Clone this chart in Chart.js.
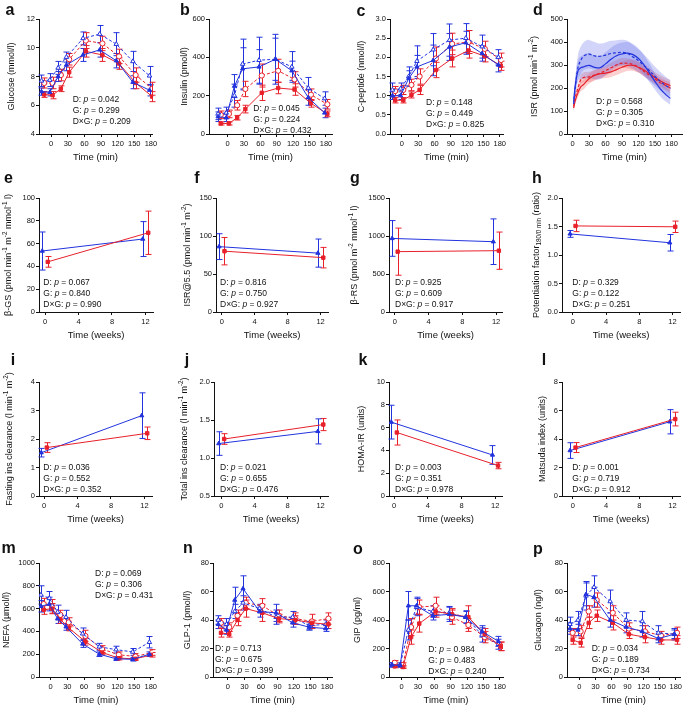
<!DOCTYPE html>
<html>
<head>
<meta charset="utf-8">
<title>OGTT panels</title>
<script src="https://cdn.jsdelivr.net/npm/chart.js@4.4.1/dist/chart.umd.min.js"></script>
<style>
  body { margin: 0; background: #fff; }
  #fig { position: relative; width: 685px; height: 707px; overflow: hidden; }
  #fig canvas { position: absolute; }
</style>
</head>
<body>
<div id="fig"></div>
<script>
// sampling times
const minTimes = [-15, 0, 15, 30, 60, 90, 120, 150, 180];
const minTicks = [0, 30, 60, 90, 120, 150, 180];
const weeks = [0, 12];
const weekTicks = [0, 4, 8, 12];

// a: glucose (mmol/l)
const glucoseBlueFilled = [6.95, 6.9, 8.0, 8.8, 9.5, 9.85, 9.1, 7.6, 7.05];
const glucoseBlueFilledErr = [0.25, 0.25, 0.35, 0.4, 0.45, 0.5, 0.5, 0.45, 0.4];
const glucoseBlueOpen = [7.7, 7.75, 8.6, 9.35, 10.65, 10.95, 10.25, 9.05, 8.05];
const glucoseBlueOpenErr = [0.4, 0.45, 0.45, 0.35, 0.45, 0.6, 0.8, 0.7, 0.65];
const glucoseRedOpen = [7.55, 7.55, 8.1, 9.2, 10.5, 10.3, 9.4, 8.1, 7.15];
const glucoseRedOpenErr = [0.35, 0.4, 0.4, 0.4, 0.55, 0.5, 0.5, 0.5, 0.45];
const glucoseRedFilled = [6.75, 6.7, 7.15, 8.3, 9.75, 9.5, 8.9, 7.55, 6.6];
const glucoseRedFilledErr = [0.2, 0.25, 0.2, 0.35, 0.4, 0.45, 0.4, 0.4, 0.35];

// b: insulin (pmol/l)
const insulinBlueFilled = [90, 85, 250, 340, 350, 390, 330, 190, 110];
const insulinBlueFilledErr = [25, 20, 60, 110, 90, 110, 50, 40, 25];
const insulinBlueOpen = [105, 110, 200, 365, 385, 390, 350, 240, 185];
const insulinBlueOpenErr = [30, 30, 60, 130, 120, 130, 80, 55, 35];
const insulinRedOpen = [100, 105, 150, 235, 305, 330, 285, 205, 155];
const insulinRedOpenErr = [20, 20, 25, 40, 60, 60, 40, 30, 25];
const insulinRedFilled = [55, 55, 85, 130, 215, 240, 232, 160, 105];
const insulinRedFilledErr = [8, 8, 12, 20, 40, 30, 30, 20, 15];

// c: C-peptide (nmol/l)
const cpepBlueFilled = [1.0, 1.0, 1.45, 1.75, 1.92, 2.27, 2.38, 2.1, 1.8];
const cpepBlueFilledErr = [0.1, 0.1, 0.2, 0.3, 0.4, 0.35, 0.3, 0.2, 0.18];
const cpepBlueOpen = [1.15, 1.18, 1.5, 1.9, 2.2, 2.45, 2.5, 2.28, 2.0];
const cpepBlueOpenErr = [0.18, 0.15, 0.25, 0.4, 0.42, 0.42, 0.38, 0.3, 0.2];
const cpepRedOpen = [1.12, 1.15, 1.28, 1.5, 1.97, 2.35, 2.4, 2.22, 1.93];
const cpepRedOpenErr = [0.12, 0.12, 0.15, 0.2, 0.3, 0.28, 0.3, 0.2, 0.18];
const cpepRedFilled = [0.88, 0.88, 1.02, 1.15, 1.67, 1.97, 2.18, 2.03, 1.78];
const cpepRedFilledErr = [0.07, 0.07, 0.08, 0.12, 0.2, 0.22, 0.2, 0.15, 0.12];

// d: insulin secretion rate, modelled curves with bands
const isrTimes = [2, 5, 10, 15, 20, 25, 30, 40, 50, 60, 70, 80, 90, 100, 110, 120, 130, 140, 150, 160, 170, 178];
const isrBlueDashed = [130, 200, 290, 320, 338, 345, 347, 340, 338, 343, 350, 353, 355, 350, 335, 318, 298, 275, 250, 228, 210, 198];
const isrBlueDashedBand = [25, 40, 55, 60, 60, 62, 62, 60, 55, 55, 55, 55, 55, 55, 52, 50, 48, 45, 42, 40, 38, 36];
const isrBlueSolid = [140, 210, 275, 288, 292, 296, 298, 290, 288, 305, 325, 340, 348, 352, 345, 328, 300, 265, 228, 195, 170, 155];
const isrBlueSolidBand = [25, 35, 45, 50, 52, 55, 55, 52, 50, 50, 50, 50, 50, 48, 46, 44, 42, 40, 36, 33, 30, 28];
const isrRedDashed = [120, 160, 200, 235, 245, 248, 248, 256, 265, 275, 288, 300, 308, 307, 302, 290, 272, 255, 238, 222, 210, 200];
const isrRedDashedBand = [12, 15, 18, 20, 22, 22, 22, 22, 22, 22, 22, 22, 22, 22, 22, 22, 22, 22, 22, 22, 22, 22];
const isrRedSolid = [112, 145, 180, 205, 215, 228, 240, 255, 262, 265, 270, 280, 290, 298, 298, 290, 278, 262, 245, 230, 218, 210];
const isrRedSolidBand = [12, 15, 18, 20, 22, 22, 22, 22, 22, 22, 22, 24, 24, 24, 24, 24, 24, 24, 24, 24, 24, 24];

// e-l: week 0 vs week 12
const betaGsBlue = [53.5, 64], betaGsBlueErr = [16.7, 15.3];
const betaGsRed = [44, 69.5], betaGsRedErr = [4.7, 19];
const isr55Blue = [86, 77.5], isr55BlueErr = [17, 18.5];
const isr55Red = [80, 71.5], isr55RedErr = [18, 13.5];
const betaRsBlue = [968, 925], betaRsBlueErr = [235, 300];
const betaRsRed = [794, 807], betaRsRedErr = [310, 245];
const potBlue = [1.37, 1.215], potBlueErr = [0.06, 0.145];
const potRed = [1.51, 1.495], potRedErr = [0.1, 0.1];
const fastClBlue = [1.52, 2.82], fastClBlueErr = [0.15, 0.8];
const fastClRed = [1.7, 2.2], fastClRedErr = [0.17, 0.22];
const totClBlue = [1.19, 1.35], totClBlueErr = [0.155, 0.165];
const totClRed = [1.25, 1.44], totClRedErr = [0.07, 0.08];
const homaBlue = [6.48, 3.6], homaBlueErr = [1.48, 0.82];
const homaRed = [5.57, 2.67], homaRedErr = [1.1, 0.28];
const matsudaBlue = [3.19, 5.21], matsudaBlueErr = [0.55, 0.85];
const matsudaRed = [3.4, 5.4], matsudaRedErr = [0.35, 0.48];

// m: NEFA (umol/l)
const nefaBlueFilled = [620, 640, 510, 440, 290, 200, 160, 155, 200];
const nefaBlueFilledErr = [50, 60, 40, 30, 30, 20, 15, 15, 20];
const nefaBlueOpen = [720, 690, 570, 525, 380, 265, 240, 220, 305];
const nefaBlueOpenErr = [80, 60, 60, 60, 50, 30, 30, 30, 50];
const nefaRedOpen = [640, 620, 545, 480, 360, 245, 195, 180, 215];
const nefaRedOpenErr = [50, 60, 40, 40, 50, 30, 25, 25, 25];
const nefaRedFilled = [590, 600, 505, 430, 310, 215, 165, 160, 195];
const nefaRedFilledErr = [40, 45, 35, 25, 30, 20, 15, 15, 20];

// n: GLP-1 (pmol/l)
const glpBlueFilled = [37, 33, 54, 62, 46, 45, 38, 35, 34];
const glpBlueFilledErr = [3, 3, 9, 9, 4, 6, 3, 2, 2];
const glpBlueOpen = [40, 37, 46, 52, 48, 42, 42, 36, 37];
const glpBlueOpenErr = [3, 4, 5, 5, 3, 5, 4, 3, 3];
const glpRedOpen = [38, 35, 43, 52, 50, 43, 41, 39, 41];
const glpRedOpenErr = [3, 3, 4, 4, 5, 4, 4, 5, 4];
const glpRedFilled = [31, 30, 40, 48, 45, 41, 40, 38, 37];
const glpRedFilledErr = [3, 2, 4, 6, 6, 3, 3, 2, 3];

// o: GIP (pg/ml)
const gipBlueFilled = [85, 80, 500, 500, 430, 440, 420, 320, 250];
const gipBlueFilledErr = [15, 10, 100, 60, 30, 50, 40, 40, 35];
const gipBlueOpen = [85, 85, 330, 490, 460, 450, 420, 295, 230];
const gipBlueOpenErr = [15, 15, 70, 60, 40, 45, 45, 50, 35];
const gipRedOpen = [100, 85, 350, 490, 500, 420, 365, 280, 215];
const gipRedOpenErr = [15, 15, 60, 50, 60, 50, 45, 40, 30];
const gipRedFilled = [75, 70, 280, 375, 460, 440, 420, 300, 215];
const gipRedFilledErr = [10, 10, 50, 60, 40, 40, 80, 40, 30];

// p: glucagon (ng/l)
const glucagonBlueFilled = [34, 33, 58, 56, 40, 35, 32, 27, 30];
const glucagonBlueFilledErr = [4, 4, 8, 7, 5, 4, 4, 3, 3];
const glucagonBlueOpen = [37, 40, 57, 63, 53, 40, 39, 31, 30];
const glucagonBlueOpenErr = [5, 6, 10, 8, 8, 5, 7, 5, 4];
const glucagonRedOpen = [31, 32, 46, 54, 45, 34, 32, 29, 31];
const glucagonRedOpenErr = [3, 4, 4, 5, 5, 4, 4, 3, 4];
const glucagonRedFilled = [26, 24, 38, 43, 38, 30, 28, 26, 26];
const glucagonRedFilledErr = [3, 3, 4, 4, 5, 3, 4, 3, 3];

const BLUE = '#2233dd';
const RED = '#e8202a';
const INK = '#111';
const FONT = "'Liberation Sans', Arial, Helvetica, sans-serif";
const COLS = [[0, 172], [172, 345], [345, 517], [517, 685]];
const ROWS = [[0, 170], [170, 350], [350, 530], [530, 707]];

Chart.defaults.font.family = FONT;
Chart.defaults.color = INK;

function series(vals, errs, xs, color, shape, open, dashed, dx) {
  return {
    data: vals.map((v, i) => ({ x: xs[i] + dx, y: v })),
    errs: errs,
    borderColor: color,
    backgroundColor: open ? '#fff' : color,
    borderWidth: 1,
    borderDash: dashed ? [3, 2] : [],
    pointStyle: shape,
    pointRadius: open ? 2.6 : 2.4,
    pointBorderWidth: 1,
    pointBackgroundColor: open ? '#fff' : color,
    pointBorderColor: color,
    tension: 0,
    fill: false
  };
}

function course(bf, bfE, bo, boE, ro, roE, rf, rfE) {
  return [
    series(bf, bfE, minTimes, BLUE, 'triangle', false, false, -2.5),
    series(rf, rfE, minTimes, RED, 'rect', false, false, 2.5),
    series(bo, boE, minTimes, BLUE, 'triangle', true, true, -2.5),
    series(ro, roE, minTimes, RED, 'circle', true, true, 2.5)
  ];
}

function weekSets(b, bE, r, rE) {
  return [
    series(r, rE, weeks, RED, 'rect', false, false, 0.33),
    series(b, bE, weeks, BLUE, 'triangle', false, false, -0.33)
  ];
}

function isrSets() {
  const line = (m, col, dashed) => ({
    data: isrTimes.map((t, i) => ({ x: t, y: m[i] })),
    borderColor: col, borderWidth: 1.2, borderDash: dashed ? [3, 2] : [],
    pointRadius: 0, fill: false, tension: 0.4
  });
  const band = (m, s, col) => [
    { data: isrTimes.map((t, i) => ({ x: t, y: m[i] - s[i] })), borderColor: 'transparent',
      borderWidth: 0, pointRadius: 0, fill: false, tension: 0.4 },
    { data: isrTimes.map((t, i) => ({ x: t, y: m[i] + s[i] })), borderColor: 'transparent',
      borderWidth: 0, pointRadius: 0, fill: '-1', backgroundColor: col, tension: 0.4 }
  ];
  return [
    line(isrBlueDashed, BLUE, true),
    line(isrBlueSolid, BLUE, false),
    line(isrRedDashed, RED, true),
    line(isrRedSolid, RED, false),
    ...band(isrBlueDashed, isrBlueDashedBand, 'rgba(95,105,235,0.28)'),
    ...band(isrBlueSolid, isrBlueSolidBand, 'rgba(95,105,235,0.28)'),
    ...band(isrRedDashed, isrRedDashedBand, 'rgba(240,85,85,0.28)'),
    ...band(isrRedSolid, isrRedSolidBand, 'rgba(240,85,85,0.28)')
  ];
}

const stat = (d, g, dg) => ['D: *p* = ' + d, 'G: *p* = ' + g, 'D×G: *p* = ' + dg];

const panels = [
  { id: 'a', col: 0, row: 0, area: [39, 152, 19, 134], x: [-22, 182, minTicks], y: [4, 12, [4, 6, 8, 10, 12]],
    yTitle: 'Glucose (mmol/l)', yTitleX: 11.7, xTitle: 'Time (min)', letter: [10, 11],
    stats: stat('0.042', '0.299', '0.209'), statsAt: [72.7, 100],
    sets: course(glucoseBlueFilled, glucoseBlueFilledErr, glucoseBlueOpen, glucoseBlueOpenErr,
                 glucoseRedOpen, glucoseRedOpenErr, glucoseRedFilled, glucoseRedFilledErr) },
  { id: 'b', col: 1, row: 0, area: [209, 332, 19, 134], x: [-34, 191, minTicks], y: [0, 600, [0, 200, 400, 600]],
    yTitle: 'Insulin (pmol/l)', yTitleX: 185, xTitle: 'Time (min)', letter: [185, 11],
    stats: stat('0.045', '0.224', '0.432'), statsAt: [253.3, 108.3],
    sets: course(insulinBlueFilled, insulinBlueFilledErr, insulinBlueOpen, insulinBlueOpenErr,
                 insulinRedOpen, insulinRedOpenErr, insulinRedFilled, insulinRedFilledErr) },
  { id: 'c', col: 2, row: 0, area: [390, 503, 19, 134], x: [-22, 186, minTicks], y: [0, 3, [0, 0.5, 1, 1.5, 2, 2.5, 3], 1],
    yTitle: 'C-peptide (nmol/l)', yTitleX: 361.7, xTitle: 'Time (min)', letter: [361, 12],
    stats: stat('0.148', '0.449', '0.825'), statsAt: [426, 102.3],
    sets: course(cpepBlueFilled, cpepBlueFilledErr, cpepBlueOpen, cpepBlueOpenErr,
                 cpepRedOpen, cpepRedOpenErr, cpepRedFilled, cpepRedFilledErr) },
  { id: 'd', col: 3, row: 0, area: [567, 682, 19, 134], x: [-10, 199, minTicks], y: [0, 500, [0, 100, 200, 300, 400, 500]],
    yTitle: 'ISR (pmol min^{-1} m^{-2})', yTitleX: 535, xTitle: 'Time (min)', letter: [538, 11],
    stats: stat('0.568', '0.305', '0.310'), statsAt: [596, 101.7],
    sets: isrSets() },

  { id: 'e', col: 0, row: 1, area: [39, 153, 198, 312], x: [-0.72, 12.9, weekTicks], y: [0, 100, [0, 20, 40, 60, 80, 100]],
    yTitle: 'β-GS (pmol min^{-1} m^{-2} mmol^{-1} l)', yTitleX: 8.5, xTitle: 'Time (weeks)', letter: [8.5, 179],
    stats: stat('0.067', '0.840', '0.990'), statsAt: [43.3, 282.7],
    sets: weekSets(betaGsBlue, betaGsBlueErr, betaGsRed, betaGsRedErr) },
  { id: 'f', col: 1, row: 1, area: [216, 328, 198, 312], x: [-0.7, 12.9, weekTicks], y: [0, 150, [0, 50, 100, 150]],
    yTitle: 'ISR@5.5 (pmol min^{-1} m^{-2})', yTitleX: 188, xTitle: 'Time (weeks)', letter: [197, 179],
    stats: stat('0.816', '0.750', '0.927'), statsAt: [220, 282.7],
    sets: weekSets(isr55Blue, isr55BlueErr, isr55Red, isr55RedErr) },
  { id: 'g', col: 2, row: 1, area: [389, 502, 198, 312], x: [-0.7, 12.7, weekTicks], y: [0, 1500, [0, 500, 1000, 1500]],
    yTitle: 'β-RS (pmol m^{-2} mmol^{-1} l)', yTitleX: 355, xTitle: 'Time (weeks)', letter: [355, 179],
    stats: stat('0.925', '0.609', '0.917'), statsAt: [395, 282.7],
    sets: weekSets(betaRsBlue, betaRsBlueErr, betaRsRed, betaRsRedErr) },
  { id: 'h', col: 3, row: 1, area: [562, 680, 198, 312], x: [-1.3, 12.9, weekTicks], y: [0, 2, [0, 0.5, 1, 1.5, 2], 1],
    yTitle: 'Potentiation factor_{180/0 min} (ratio)', yTitleX: 536.7, xTitle: 'Time (weeks)', letter: [537, 179],
    stats: stat('0.329', '0.122', '0.251'), statsAt: [572.3, 282.7],
    sets: weekSets(potBlue, potBlueErr, potRed, potRedErr) },

  { id: 'i', col: 0, row: 2, area: [39, 152, 382, 496], x: [-0.6, 12.9, weekTicks], y: [0, 4, [0, 1, 2, 3, 4]],
    yTitle: 'Fasting ins clearance (l min^{-1} m^{-2})', yTitleX: 10, xTitle: 'Time (weeks)', letter: [13, 361],
    stats: stat('0.036', '0.552', '0.352'), statsAt: [43.3, 467.3],
    sets: weekSets(fastClBlue, fastClBlueErr, fastClRed, fastClRedErr) },
  { id: 'j', col: 1, row: 2, area: [214, 328, 382, 496], x: [-0.9, 12.9, weekTicks], y: [0.5, 2, [0.5, 1, 1.5, 2], 1],
    yTitle: 'Total ins clearance (l min^{-1} m^{-2})', yTitleX: 185, xTitle: 'Time (weeks)', letter: [187, 361],
    stats: stat('0.021', '0.655', '0.476'), statsAt: [220, 467.3],
    sets: weekSets(totClBlue, totClBlueErr, totClRed, totClRedErr) },
  { id: 'k', col: 2, row: 2, area: [389, 502, 382, 496], x: [-0.6, 12.8, weekTicks], y: [0, 10, [0, 2, 4, 6, 8, 10]],
    yTitle: 'HOMA-IR (units)', yTitleX: 361.7, xTitle: 'Time (weeks)', letter: [363, 361],
    stats: stat('0.003', '0.351', '0.978'), statsAt: [395, 467.3],
    sets: weekSets(homaBlue, homaBlueErr, homaRed, homaRedErr) },
  { id: 'l', col: 3, row: 2, area: [562, 680, 382, 496], x: [-1.3, 12.9, weekTicks], y: [0, 8, [0, 2, 4, 6, 8]],
    yTitle: 'Matsuda index (units)', yTitleX: 543, xTitle: 'Time (weeks)', letter: [544, 361],
    stats: stat('0.001', '0.719', '0.912'), statsAt: [572.3, 467.3],
    sets: weekSets(matsudaBlue, matsudaBlueErr, matsudaRed, matsudaRedErr) },

  { id: 'm', col: 0, row: 3, area: [39, 153, 563, 677], x: [-21, 184, minTicks], y: [0, 1000, [0, 200, 400, 600, 800, 1000]],
    yTitle: 'NEFA (µmol/l)', yTitleX: 6.7, xTitle: 'Time (min)', letter: [8.5, 549],
    stats: stat('0.069', '0.306', '0.431'), statsAt: [95, 573.3],
    sets: course(nefaBlueFilled, nefaBlueFilledErr, nefaBlueOpen, nefaBlueOpenErr,
                 nefaRedOpen, nefaRedOpenErr, nefaRedFilled, nefaRedFilledErr) },
  { id: 'n', col: 1, row: 3, area: [213, 332, 563, 677], x: [-27, 189, minTicks], y: [0, 80, [0, 20, 40, 60, 80]],
    yTitle: 'GLP-1 (pmol/l)', yTitleX: 188, xTitle: 'Time (min)', letter: [188, 549],
    stats: stat('0.713', '0.675', '0.399'), statsAt: [215, 648.3],
    sets: course(glpBlueFilled, glpBlueFilledErr, glpBlueOpen, glpBlueOpenErr,
                 glpRedOpen, glpRedOpenErr, glpRedFilled, glpRedFilledErr) },
  { id: 'o', col: 2, row: 3, area: [389, 503, 563, 677], x: [-23, 186, minTicks], y: [0, 800, [0, 200, 400, 600, 800]],
    yTitle: 'GIP (pg/ml)', yTitleX: 358, xTitle: 'Time (min)', letter: [358, 550],
    stats: stat('0.984', '0.483', '0.240'), statsAt: [428.3, 650],
    sets: course(gipBlueFilled, gipBlueFilledErr, gipBlueOpen, gipBlueOpenErr,
                 gipRedOpen, gipRedOpenErr, gipRedFilled, gipRedFilledErr) },
  { id: 'p', col: 3, row: 3, area: [567, 682, 563, 677], x: [-23, 188, minTicks], y: [0, 80, [0, 20, 40, 60, 80]],
    yTitle: 'Glucagon (ng/l)', yTitleX: 539, xTitle: 'Time (min)', letter: [538, 550],
    stats: stat('0.034', '0.189', '0.734'), statsAt: [591.7, 648.3],
    sets: course(glucagonBlueFilled, glucagonBlueFilledErr, glucagonBlueOpen, glucagonBlueOpenErr,
                 glucagonRedOpen, glucagonRedOpenErr, glucagonRedFilled, glucagonRedFilledErr) }
];

// text with ^{sup}, _{sub} and *italic* runs
function drawRich(ctx, str, x, y, size, align) {
  const parts = [];
  const re = /\^\{([^}]*)\}|_\{([^}]*)\}|\*([^*]*)\*/g;
  let last = 0, m;
  while ((m = re.exec(str))) {
    if (m.index > last) parts.push({ t: str.slice(last, m.index), k: '' });
    if (m[1] !== undefined) parts.push({ t: m[1], k: 'sup' });
    else if (m[2] !== undefined) parts.push({ t: m[2], k: 'sub' });
    else parts.push({ t: m[3], k: 'it' });
    last = re.lastIndex;
  }
  if (last < str.length) parts.push({ t: str.slice(last), k: '' });
  const fontOf = k => (k === 'it' ? 'italic ' : '') + ((k === 'sup' || k === 'sub') ? size * 0.7 : size) + 'px ' + FONT;
  let w = 0;
  parts.forEach(p => { ctx.font = fontOf(p.k); p.w = ctx.measureText(p.t).width; w += p.w; });
  let cx = align === 'center' ? x - w / 2 : x;
  ctx.textAlign = 'left';
  ctx.textBaseline = 'middle';
  parts.forEach(p => {
    ctx.font = fontOf(p.k);
    const dy = p.k === 'sup' ? -size * 0.38 : p.k === 'sub' ? size * 0.3 : 0;
    ctx.fillText(p.t, cx, y + dy);
    cx += p.w;
  });
}

function decor(p, ox, oy) {
  return {
    id: 'decor',
    beforeDatasetsDraw(chart) {
      const ctx = chart.ctx, xs = chart.scales.x, ys = chart.scales.y;
      ctx.save();
      chart.data.datasets.forEach(ds => {
        if (!ds.errs) return;
        ctx.strokeStyle = ds.borderColor;
        ctx.lineWidth = 1;
        ctx.setLineDash([]);
        ds.data.forEach((pt, i) => {
          const px = Math.round(xs.getPixelForValue(pt.x)) + 0.5;
          const y1 = ys.getPixelForValue(pt.y - ds.errs[i]);
          const y2 = ys.getPixelForValue(pt.y + ds.errs[i]);
          ctx.beginPath();
          ctx.moveTo(px, y1); ctx.lineTo(px, y2);
          ctx.moveTo(px - 3, y1); ctx.lineTo(px + 3, y1);
          ctx.moveTo(px - 3, y2); ctx.lineTo(px + 3, y2);
          ctx.stroke();
        });
      });
      ctx.restore();
    },
    afterDraw(chart) {
      const ctx = chart.ctx, a = chart.chartArea;
      ctx.save();
      ctx.fillStyle = INK;
      // panel letter
      ctx.font = 'bold 16px ' + FONT;
      ctx.textAlign = 'center';
      ctx.textBaseline = 'middle';
      ctx.fillText(p.id, p.letter[0] - ox, p.letter[1] - oy);
      // x title
      ctx.font = '9.5px ' + FONT;
      ctx.fillText(p.xTitle, (a.left + a.right) / 2, a.bottom + 23);
      // y title
      ctx.save();
      ctx.translate(p.yTitleX - ox, (a.top + a.bottom) / 2);
      ctx.rotate(-Math.PI / 2);
      drawRich(ctx, p.yTitle, 0, 0, 9, 'center');
      ctx.restore();
      // stats
      p.stats.forEach((s, i) => drawRich(ctx, s, p.statsAt[0] - ox, p.statsAt[1] - oy + i * 11, 8.5, 'left'));
      ctx.restore();
    }
  };
}

const fig = document.getElementById('fig');
panels.forEach(p => {
  const [x0, x1] = COLS[p.col], [y0, y1] = ROWS[p.row];
  const [l, r, t, b] = p.area;
  const cv = document.createElement('canvas');
  cv.width = x1 - x0; cv.height = y1 - y0;
  cv.style.left = x0 + 'px'; cv.style.top = y0 + 'px';
  cv.style.width = (x1 - x0) + 'px'; cv.style.height = (y1 - y0) + 'px';
  fig.appendChild(cv);
  const dec = p.y[3] || 0;
  // scale boxes fill the margins so their labels are not clipped
  const yBox = l - x0, xBox = y1 - b;
  const axisCommon = {
    type: 'linear',
    grid: { drawOnChartArea: false, drawTicks: true, tickLength: 3, color: INK, lineWidth: 1 },
    border: { display: true, color: INK, width: 1 }
  };
  new Chart(cv, {
    type: 'line',
    data: { datasets: p.sets },
    options: {
      responsive: false,
      animation: false,
      events: [],
      layout: { padding: { left: 0, right: x1 - r, top: t - y0, bottom: 0 } },
      plugins: { legend: { display: false }, tooltip: { enabled: false } },
      scales: {
        x: Object.assign({}, axisCommon, {
          min: p.x[0], max: p.x[1],
          afterBuildTicks: s => { s.ticks = p.x[2].map(v => ({ value: v })); },
          afterFit: s => { s.height = xBox; },
          ticks: { font: { size: 7.5 }, color: INK, padding: 2, maxRotation: 0, autoSkip: false, callback: v => String(v) }
        }),
        y: Object.assign({}, axisCommon, {
          min: p.y[0], max: p.y[1],
          afterBuildTicks: s => { s.ticks = p.y[2].map(v => ({ value: v })); },
          afterFit: s => { s.width = yBox; },
          ticks: { font: { size: 7.5 }, color: INK, padding: 1, autoSkip: false, callback: v => v.toFixed(dec) }
        })
      }
    },
    plugins: [decor(p, x0, y0)]
  });
});
</script>
</body>
</html>
